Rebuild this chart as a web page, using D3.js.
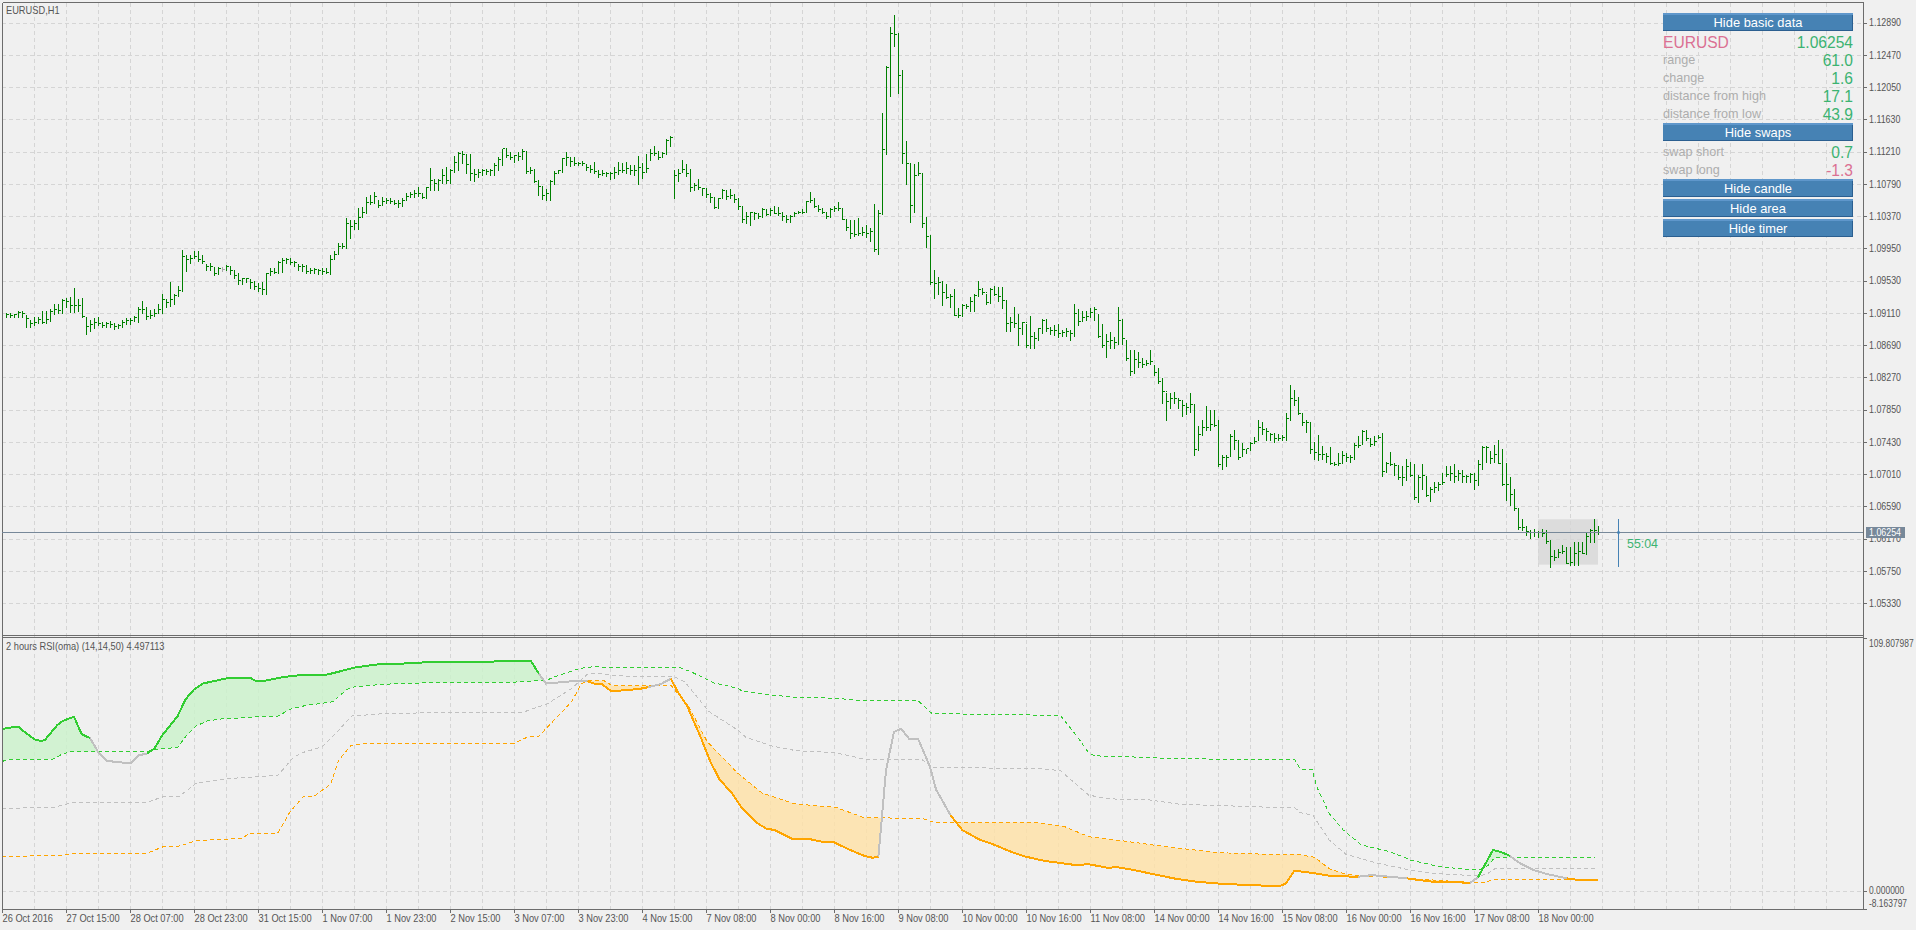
<!DOCTYPE html>
<html>
<head>
<meta charset="utf-8">
<script src="https://cdn.jsdelivr.net/npm/d3@7"></script>
<style>
  html, body { margin: 0; padding: 0; background: #f0f0f0; overflow: hidden; }
  text { font-family: "Liberation Sans", Arial, sans-serif; }
</style>
</head>
<body>
<svg id="chart" width="1916" height="930"></svg>
<script>
// prices are kept as price x 10000
const highs = [
  10911,10911,10910,10913,10914,10908,10902,10905,10905,10913,
  10914,10916,10922,10922,10929,10930,10931,10943,10929,10930,
  10906,10902,10904,10906,10899,10899,10901,10898,10897,10902,
  10904,10904,10907,10919,10926,10918,10915,10916,10922,10936,
  10929,10951,10935,10946,10993,10986,10986,10991,10991,10986,
  10974,10976,10970,10971,10971,10973,10971,10967,10963,10957,
  10957,10955,10953,10950,10951,10963,10969,10969,10979,10982,
  10983,10983,10979,10974,10974,10973,10969,10969,10968,10969,
  10970,10986,10992,11002,11002,11034,11032,11032,11047,11049,
  11062,11065,11068,11058,11062,11061,11061,11058,11058,11060,
  11067,11069,11071,11075,11067,11075,11100,11086,11086,11099,
  11101,11099,11115,11120,11122,11118,11118,11099,11098,11099,
  11099,11099,11106,11114,11125,11125,11121,11117,11121,11125,
  11122,11101,11098,11084,11075,11073,11084,11096,11097,11113,
  11120,11114,11114,11108,11109,11104,11104,11107,11097,11097,
  11095,11095,11101,11107,11106,11108,11104,11104,11115,11106,
  11118,11125,11128,11122,11121,11137,11142,11097,11099,11110,
  11105,11098,11080,11085,11073,11073,11067,11061,11060,11073,
  11071,11072,11066,11060,11050,11043,11043,11042,11041,11047,
  11045,11047,11050,11049,11043,11038,11038,11043,11044,11046,
  11057,11068,11061,11052,11048,11043,11048,11050,11055,11048,
  11032,11032,11032,11034,11023,11025,11021,11053,11045,11171,
  11232,11283,11299,11276,11227,11135,11106,11105,11107,11092,
  11036,11012,10967,10958,10952,10949,10936,10942,10917,10923,
  10923,10932,10936,10953,10943,10936,10943,10946,10945,10945,
  10928,10906,10919,10910,10899,10897,10907,10886,10891,10903,
  10903,10893,10895,10897,10889,10891,10889,10923,10916,10913,
  10913,10917,10918,10909,10897,10884,10886,10879,10918,10903,
  10876,10863,10863,10860,10852,10850,10863,10842,10839,10826,
  10807,10807,10808,10800,10798,10793,10806,10792,10763,10771,
  10789,10785,10785,10771,10726,10726,10753,10758,10745,10741,
  10734,10743,10749,10771,10769,10761,10755,10754,10753,10752,
  10780,10817,10811,10802,10780,10771,10769,10743,10752,10737,
  10728,10736,10717,10728,10731,10728,10726,10741,10751,10759,
  10759,10748,10750,10752,10755,10717,10730,10715,10711,10711,
  10721,10717,10714,10700,10714,10698,10684,10691,10691,10702,
  10711,10711,10714,10706,10706,10700,10702,10702,10719,10737,
  10737,10730,10739,10745,10733,10715,10697,10681,10656,10643,
  10633,10628,10629,10627,10629,10628,10615,10602,10604,10609,
  10606,10606,10613,10613,10613,10626,10629,10642,10633
];
const lows = [
  10906,10905,10906,10905,10906,10892,10893,10895,10898,10898,
  10898,10901,10910,10911,10911,10919,10912,10912,10914,10905,
  10884,10888,10891,10895,10892,10893,10893,10890,10891,10893,
  10896,10897,10901,10899,10911,10903,10904,10907,10911,10911,
  10919,10920,10922,10933,10940,10966,10976,10982,10978,10976,
  10967,10967,10960,10961,10966,10967,10961,10957,10949,10948,
  10951,10944,10942,10939,10936,10935,10960,10963,10963,10964,
  10976,10974,10972,10967,10966,10963,10963,10963,10961,10962,
  10963,10962,10981,10989,10995,10996,11009,11020,11020,11036,
  11041,11053,11054,11049,11051,11054,11054,11053,11049,11050,
  11058,11062,11062,11063,11060,11060,11071,11071,11071,11080,
  11080,11080,11094,11097,11106,11093,11084,11083,11088,11091,
  11092,11091,11091,11097,11104,11114,11111,11108,11110,11112,
  11093,11093,11081,11065,11059,11058,11058,11079,11093,11094,
  11104,11102,11103,11103,11104,11097,11095,11093,11088,11091,
  11089,11086,11087,11092,11094,11093,11092,11091,11079,11087,
  11096,11110,11117,11112,11114,11118,11129,11060,11083,11094,
  11089,11070,11071,11072,11065,11062,11056,11048,11048,11060,
  11059,11060,11055,11046,11030,11028,11026,11033,11034,11036,
  11039,11039,11041,11039,11032,11029,11030,11038,11041,11041,
  11043,11055,11049,11044,11041,11035,11036,11044,11045,11033,
  11019,11008,11011,11012,11012,11010,11004,10992,10988,11040,
  11118,11193,11258,11198,11106,11079,11029,11043,11091,11023,
  10997,10949,10930,10936,10921,10930,10919,10908,10906,10907,
  10917,10913,10913,10933,10936,10923,10924,10934,10926,10917,
  10887,10887,10893,10869,10884,10867,10865,10865,10875,10885,
  10888,10884,10882,10880,10881,10881,10876,10881,10895,10902,
  10902,10906,10902,10880,10867,10853,10865,10865,10871,10871,
  10850,10830,10832,10840,10840,10843,10844,10830,10819,10793,
  10772,10787,10793,10787,10777,10779,10782,10726,10732,10752,
  10759,10759,10763,10711,10708,10711,10724,10734,10721,10724,
  10728,10732,10741,10745,10753,10745,10745,10743,10745,10746,
  10746,10771,10791,10779,10765,10756,10728,10720,10719,10721,
  10717,10714,10713,10713,10716,10718,10717,10721,10736,10740,
  10745,10737,10739,10748,10698,10704,10713,10700,10694,10687,
  10693,10698,10669,10665,10682,10672,10666,10678,10680,10688,
  10698,10693,10691,10693,10691,10691,10691,10682,10687,10708,
  10717,10715,10717,10715,10687,10667,10661,10654,10629,10628,
  10622,10618,10620,10619,10620,10611,10580,10589,10593,10598,
  10585,10583,10583,10583,10598,10597,10613,10612,10623
];
const opens = [
  10910,10909,10908,10909,10911,10907,10897,10897,10900,10903,
  10899,10903,10912,10915,10914,10927,10926,10921,10920,10919,
  10905,10892,10896,10899,10897,10895,10897,10896,10893,10895,
  10899,10901,10901,10901,10915,10908,10905,10908,10911,10915,
  10929,10925,10928,10933,10940,10985,10980,10982,10984,10980,
  10973,10971,10970,10962,10968,10969,10971,10966,10960,10953,
  10956,10955,10951,10945,10943,10938,10962,10965,10964,10976,
  10979,10981,10977,10973,10971,10972,10965,10966,10968,10966,
  10965,10964,10980,10987,10998,10997,11027,11024,11027,11036,
  11042,11055,11055,11056,11052,11056,11058,11056,11055,11053,
  11058,11064,11065,11067,11066,11061,11074,11083,11079,11083,
  11086,11083,11097,11107,11118,11117,11099,11093,11091,11094,
  11096,11095,11096,11103,11111,11125,11116,11114,11116,11115,
  11121,11095,11096,11082,11075,11064,11066,11082,11093,11096,
  11112,11113,11108,11106,11106,11104,11100,11098,11095,11091,
  11093,11093,11091,11094,11097,11097,11099,11098,11097,11095,
  11094,11110,11118,11118,11114,11118,11136,11060,11083,11094,
  11098,11094,11074,11077,11073,11073,11065,11061,11048,11060,
  11070,11062,11064,11059,11050,11032,11037,11042,11040,11037,
  11045,11040,11044,11041,11040,11037,11032,11037,11041,11042,
  11043,11056,11057,11050,11045,11042,11036,11046,11047,11047,
  11033,11022,11015,11013,11014,11016,11015,11017,10993,11040,
  11124,11230,11275,11275,11220,11118,11105,11051,11090,11092,
  11027,11010,10950,10949,10950,10937,10933,10932,10908,10907,
  10920,10919,10926,10933,10942,10937,10925,10941,10935,10932,
  10927,10897,10899,10897,10890,10898,10868,10880,10878,10890,
  10901,10890,10888,10888,10884,10886,10887,10884,10909,10900,
  10905,10906,10912,10909,10880,10869,10874,10875,10872,10901,
  10875,10851,10834,10850,10846,10844,10845,10842,10833,10822,
  10808,10796,10799,10800,10797,10790,10788,10792,10733,10752,
  10762,10762,10766,10764,10713,10722,10724,10750,10745,10724,
  10733,10733,10741,10745,10762,10759,10754,10753,10747,10747,
  10748,10774,10800,10797,10780,10768,10768,10733,10729,10727,
  10727,10724,10715,10714,10716,10725,10723,10722,10738,10739,
  10756,10747,10740,10750,10749,10704,10715,10714,10712,10696,
  10697,10711,10699,10670,10697,10697,10672,10680,10683,10688,
  10698,10701,10702,10698,10702,10698,10698,10700,10692,10714,
  10735,10730,10721,10727,10716,10688,10687,10674,10656,10631,
  10631,10626,10625,10625,10625,10623,10613,10593,10592,10597,
  10600,10585,10586,10597,10600,10598,10620,10628,10628
];
const closes = [
  10909,10908,10909,10911,10910,10903,10897,10898,10902,10899,
  10902,10913,10915,10914,10927,10926,10921,10920,10920,10906,
  10893,10896,10899,10897,10895,10897,10896,10893,10894,10899,
  10901,10901,10905,10915,10915,10906,10908,10910,10915,10929,
  10925,10928,10933,10940,10985,10980,10982,10984,10980,10978,
  10971,10971,10962,10969,10968,10971,10966,10960,10953,10956,
  10956,10951,10945,10943,10941,10962,10965,10964,10976,10979,
  10981,10977,10976,10971,10972,10965,10966,10968,10966,10965,
  10964,10980,10987,10997,10998,11027,11024,11027,11035,11042,
  11055,11055,11063,11051,11056,11057,11056,11054,11053,11058,
  11063,11065,11067,11066,11061,11074,11083,11079,11083,11090,
  11084,11097,11107,11118,11117,11104,11093,11091,11094,11096,
  11095,11096,11103,11111,11125,11116,11114,11116,11115,11121,
  11095,11096,11082,11075,11064,11066,11082,11093,11096,11112,
  11113,11108,11106,11106,11106,11100,11098,11095,11091,11093,
  11093,11092,11094,11097,11097,11099,11097,11097,11101,11094,
  11099,11118,11118,11113,11118,11136,11140,11090,11093,11098,
  11093,11074,11077,11074,11073,11065,11061,11048,11060,11070,
  11062,11064,11059,11050,11032,11037,11042,11040,11037,11045,
  11039,11044,11041,11040,11037,11032,11036,11041,11042,11042,
  11056,11057,11050,11045,11042,11036,11046,11047,11047,11033,
  11022,11015,11013,11014,11016,11015,11017,10993,11040,11124,
  11230,11275,11274,11220,11118,11105,11051,11090,11092,11027,
  11010,10950,10949,10950,10937,10931,10932,10908,10907,10920,
  10919,10926,10933,10942,10937,10925,10941,10935,10932,10927,
  10897,10899,10897,10890,10898,10868,10880,10878,10890,10901,
  10890,10888,10888,10884,10886,10887,10884,10910,10900,10905,
  10906,10912,10915,10880,10869,10874,10875,10872,10901,10877,
  10851,10834,10850,10846,10844,10845,10847,10833,10822,10808,
  10796,10799,10800,10797,10790,10788,10792,10733,10752,10762,
  10762,10766,10764,10713,10722,10722,10750,10745,10723,10733,
  10734,10741,10744,10762,10759,10756,10753,10747,10747,10748,
  10774,10800,10797,10780,10768,10768,10733,10729,10727,10727,
  10724,10715,10714,10715,10725,10723,10722,10738,10738,10756,
  10747,10740,10743,10749,10704,10715,10714,10712,10696,10697,
  10711,10699,10670,10697,10699,10673,10681,10683,10688,10690,
  10701,10702,10698,10702,10698,10698,10700,10692,10714,10735,
  10736,10721,10727,10715,10688,10687,10674,10656,10631,10631,
  10626,10625,10625,10625,10623,10613,10593,10592,10599,10600,
  10585,10586,10597,10600,10598,10620,10628,10627,10625.4
];
const dojiBars = [54];

const priceTicks = [11289,11247,11205,11163,11121,11079,11037,10995,10953,10911,10869,10827,10785,10743,10701,10659,10617,10575,10533];
const lastPrice = 10625.4;
const dayHigh = 10642;
const dayLow = 10583;
const dayStartBar = 383;
const timerBar = 403;

const timeLabels = ["26 Oct 2016","27 Oct 15:00","28 Oct 07:00","28 Oct 23:00","31 Oct 15:00","1 Nov 07:00","1 Nov 23:00","2 Nov 15:00","3 Nov 07:00","3 Nov 23:00","4 Nov 15:00","7 Nov 08:00","8 Nov 00:00","8 Nov 16:00","9 Nov 08:00","10 Nov 00:00","10 Nov 16:00","11 Nov 08:00","14 Nov 00:00","14 Nov 16:00","15 Nov 08:00","16 Nov 00:00","16 Nov 16:00","17 Nov 08:00","18 Nov 00:00"];
const rsiTicks = [109.807987, 0, -8.163797];

// RSI line, [bar, value]
const rsiMain = [[-0.9,70.2],[0.5,70.75],[3.1,71.2],[4.6,69],[7.2,65.7],[8.7,65],[9.7,65.4],[12.8,71.9],[14.3,73.8],[17,75.5],[18.9,68],[21,66.3],[23,60.4],[25.2,56.5],[28.1,55.8],[31.2,55.5],[33.2,58.9],[35.2,59.5],[37.1,61.8],[39.1,67.6],[40.8,71.2],[42.9,75.8],[44.9,83.1],[47,87.3],[49.2,89.9],[51.6,90.8],[55.3,92.2],[61,92.4],[62.3,91.1],[64.8,91.1],[69.4,92.7],[73.5,93.5],[80.1,93.7],[83.2,95],[87.1,96.8],[93.4,98.3],[98,98.4],[105.1,99.1],[117.9,99.3],[131.2,99.7],[133.2,94.2],[135,89.9],[139.3,90.5],[143.2,91.2],[145.4,90.9],[147,89.9],[149,89.6],[151.2,86.7],[154.1,86.9],[158.5,87.6],[160.5,88.3],[163.6,89.6],[166.2,91.9],[168.2,85.6],[170.2,80.5],[171.8,74.1],[173.8,66.1],[176.1,56],[178.4,48.4],[181.5,42.4],[184,35.9],[187.6,29.7],[190.1,27.1],[192.2,26.5],[196.8,22.5],[198.8,22.5],[200.3,22.8],[203.9,21.5],[207,21.2],[210.5,18.3],[214.6,15.3],[216.7,14.5],[218.1,15],[218.7,26.5],[220,52.4],[222,69],[223.8,70.3],[225.9,65.7],[228.1,65.7],[231,53.9],[232.5,44.1],[236.1,33],[239.1,26.5],[243.2,22.5],[247.3,20],[251.4,17],[254.9,15],[259.5,13.2],[267.2,11.4],[270.7,11.7],[275.3,10.2],[277.9,10.4],[282,9.2],[287.1,7.3],[292.2,5.5],[297.3,4.2],[303.4,3.3],[311.6,2.6],[318.5,2.3],[320,3.4],[322.1,8.9],[327.2,7.8],[331.3,6.6],[337.9,6.3],[341.5,7],[350.2,5.6],[356.3,4.2],[366,3.7],[368,6.05],[371.75,17.9],[373.9,16.9],[376,15.3],[378.5,12.1],[381.9,9.2],[385.2,7.5],[390.2,5.6],[391.9,5.3],[392.8,4.9],[398,4.9]];
const greenRuns = [[-0.9,21],[35.2,133.2],[368,376]];
const orangeRuns = [[145.4,160.5],[166.2,218.1],[236.1,337.9],[350.2,366],[390.2,398]];

const rsiUpper = [[-0.9,56.2],[0.5,57.1],[11.8,57.2],[14.3,59.6],[16.4,60.4],[23,60.5],[35.2,60.5],[37.8,61.4],[42.9,62.3],[44.9,66.9],[47.5,71.5],[50.5,73.8],[54.1,74.6],[59.7,75.1],[63.8,75.6],[67.9,75.8],[71.5,79.1],[75,80.4],[81.7,82],[85.2,87.3],[87.3,88.5],[94.4,89.6],[104.6,90.2],[127.1,90.5],[135.2,91.4],[138.3,93.5],[143.4,96.4],[146.5,97.1],[158.5,96.7],[168.7,96.7],[171.8,94.5],[176.9,90.2],[183,87.8],[184,86.6],[191.2,84.9],[199.3,83.7],[207.5,83.6],[212.6,82.6],[227.9,82.6],[231.5,76.9],[263.6,76.1],[267.2,68.3],[270.7,59.9],[272.3,58.6],[286,57.9],[291.2,57.3],[318.5,57.1],[322.1,57.1],[323.6,52.9],[326.5,52.7],[327.7,45.2],[330.8,33.7],[334.3,26.5],[338.9,20],[346.1,17.1],[351.2,13.5],[358.5,10.6],[365.5,9.5],[368.5,9.5],[370.4,11],[371.8,13.8],[372.7,14.7],[397.2,14.7]];
const rsiMid = [[-0.9,35.9],[11.8,36.3],[16.4,38.3],[35.2,38.5],[39.3,40.9],[43.4,41.2],[47.5,46.7],[55.6,48.8],[67.9,50.1],[72,58.2],[74.5,60.2],[79.1,62.5],[83.2,69.7],[86.3,75.8],[94.9,76.9],[110.7,77.4],[129.1,77.4],[135.2,81],[141.4,87.7],[145.4,94],[148.5,94.2],[151.6,93.5],[158.5,92.8],[167.2,92.8],[169.7,90.6],[175.8,77.7],[183,69.7],[185,66.6],[191.2,63],[197.3,60.9],[207.5,59.9],[214.6,57.2],[228.9,57.1],[232,53.5],[257.5,53.2],[263.6,52.2],[270.7,41.6],[275.8,40],[286,39.5],[293.2,37.7],[318.5,36.2],[322.1,36.3],[323.6,34],[326.7,33],[330.8,22.2],[335,16],[342,12.5],[350.2,9.5],[356.3,7.8],[365.5,6.9],[368.5,6.9],[370.2,7.3],[371.8,9.5],[372.7,9.9],[397.2,9.9]];
const rsiLower = [[-0.9,15],[14.8,15.7],[17.4,16.4],[35.2,16.4],[39.3,19.3],[43.4,19.6],[47.5,21.9],[59.2,22.9],[60.7,25.1],[67.9,25.1],[71,34.4],[74.5,41.2],[77.1,41.2],[81.2,46.4],[83.2,56.8],[86.3,63.2],[89.3,63.8],[127.1,64],[130.6,66.9],[133.2,67.1],[141.4,82],[143.9,89.9],[145.4,91.1],[149.5,91.1],[151.6,88.9],[158.5,88.9],[166.2,89.2],[170.7,79.8],[175.3,64.7],[183,51],[189.1,42.4],[197.3,37.8],[207.5,36.3],[214.6,31.8],[228.9,31.6],[232,29.8],[257.5,29.8],[264.6,28],[270.7,23.6],[278.9,21.9],[291.2,19],[303.4,16.7],[318.5,15.8],[322.6,16],[327.2,14.7],[330.8,9.8],[334.8,7.5],[338.9,6.6],[350.2,5.6],[365.5,3.9],[370.2,3.9],[370.9,4.6],[372.3,5.2],[397.2,5.2]];

// info panel texts
const buttonLabels = ["Hide basic data","Hide swaps","Hide candle","Hide area","Hide timer"];
const rowLabels = ["range","change","distance from high","distance from low","swap short","swap long"];
const rowValues = ["61.0","1.6","17.1","43.9","0.7","-1.3"];

const colors = {
  bg: "#f0f0f0", grid: "#d5d5d5", frame: "#6c6c6c", text: "#555555",
  bar: "#008000", doji: "#a9a9a9", lime: "#32cd32", orange: "#ffa500", silver: "#c0c0c0",
  slate: "#778899", steel: "#4682b4", seagreen: "#3cb371", pink: "#db7093", faint: "#adadad"
};
const labelFont = 10.3;

// squeeze a text to a narrower width, the terminal font is narrower than the ones we have
const condense = (sel, f) => sel.each(function () {
  d3.select(this).attr("textLength", this.getComputedTextLength() * f).attr("lengthAdjust", "spacingAndGlyphs");
});

const svg = d3.select("#chart");
svg.append("rect").attr("width", 1916).attr("height", 930).attr("fill", colors.bg);

// scales
const left = 2, right = 1863, paneTop = 2, paneBottom = 635, rsiTop = 637, rsiBottom = 909;
const x = d3.scaleLinear().domain([-1, 398]).range([2, 1598]);
const y = d3.scaleLinear().domain([11289, 10533]).range([22.7, 603]);
const yRsi = d3.scaleLinear().domain([109.807987, 0]).range([637.5, 891.3]);

// selected-day area sits under the grid
svg.append("rect")
  .attr("x", x(dayStartBar)).attr("width", x(398) - x(dayStartBar))
  .attr("y", y(dayHigh)).attr("height", y(dayLow) - y(dayHigh))
  .attr("fill", "#dcdcdc");

// grid
const gridBars = d3.range(7, 460, 8);
const grid = svg.append("g").attr("stroke", colors.grid).attr("stroke-dasharray", "4 3").attr("shape-rendering", "crispEdges");
grid.selectAll(".v").data(gridBars).join("line").attr("class", "v")
  .attr("x1", d => x(d) + 0.5).attr("x2", d => x(d) + 0.5).attr("y1", paneTop + 1).attr("y2", rsiBottom);
grid.selectAll(".h").data(priceTicks).join("line").attr("class", "h")
  .attr("x1", left).attr("x2", right).attr("y1", d => Math.round(y(d)) + 0.5).attr("y2", d => Math.round(y(d)) + 0.5);
grid.append("line").attr("x1", left).attr("x2", right).attr("y1", Math.round(yRsi(0)) + 0.5).attr("y2", Math.round(yRsi(0)) + 0.5);

// OHLC bars
const bars = svg.append("g").attr("shape-rendering", "crispEdges");
highs.forEach((h, i) => {
  const cx = Math.round(x(i)) + 0.5;
  const g = bars.append("g").attr("stroke", dojiBars.includes(i) ? colors.doji : colors.bar);
  g.append("line").attr("x1", cx).attr("x2", cx).attr("y1", y(h)).attr("y2", y(lows[i]) + 1);
  g.append("line").attr("x1", cx - 1).attr("x2", cx).attr("y1", y(opens[i])).attr("y2", y(opens[i]));
  g.append("line").attr("x1", cx).attr("x2", cx + 2).attr("y1", y(closes[i])).attr("y2", y(closes[i]));
});

// RSI fills: clip the area under/over the RSI line with the area outside the band
const defs = svg.append("defs");
defs.append("clipPath").attr("id", "aboveUpper").append("path")
  .attr("d", d3.area().x(d => x(d[0])).y0(rsiTop).y1(d => yRsi(d[1]))(rsiUpper));
defs.append("clipPath").attr("id", "belowLower").append("path")
  .attr("d", d3.area().x(d => x(d[0])).y0(rsiBottom).y1(d => yRsi(d[1]))(rsiLower));

svg.append("path").attr("clip-path", "url(#aboveUpper)")
  .attr("d", d3.area().x(d => x(d[0])).y0(rsiBottom).y1(d => yRsi(d[1]))(rsiMain))
  .attr("fill", "rgb(202,243,202)").attr("fill-opacity", 0.8);
svg.append("path").attr("clip-path", "url(#belowLower)")
  .attr("d", d3.area().x(d => x(d[0])).y0(rsiTop).y1(d => yRsi(d[1]))(rsiMain))
  .attr("fill", "rgb(255,225,165)").attr("fill-opacity", 0.8);

// RSI bands
const rsiLine = d3.line().x(d => x(d[0])).y(d => yRsi(d[1]));
[[rsiUpper, colors.lime], [rsiMid, colors.silver], [rsiLower, colors.orange]].forEach(([s, c]) => {
  svg.append("path").attr("d", rsiLine(s)).attr("fill", "none").attr("stroke", c)
    .attr("stroke-dasharray", "4 3").attr("shape-rendering", "crispEdges");
});

// RSI main line, silver with coloured runs on top
const drawMain = (pts, c) => svg.append("path").attr("d", rsiLine(pts)).attr("fill", "none")
  .attr("stroke", c).attr("stroke-width", 2).attr("shape-rendering", "crispEdges");
drawMain(rsiMain, colors.silver);
greenRuns.forEach(([a, b]) => drawMain(rsiMain.filter(d => d[0] >= a && d[0] <= b), colors.lime));
orangeRuns.forEach(([a, b]) => drawMain(rsiMain.filter(d => d[0] >= a && d[0] <= b), colors.orange));

// frames
const frame = svg.append("g").attr("stroke", colors.frame).attr("shape-rendering", "crispEdges");
[[left, paneTop, right, paneTop], [left, paneTop, left, rsiBottom], [right, paneTop, right, rsiBottom],
 [left, paneBottom, right, paneBottom], [left, rsiTop, right, rsiTop], [left, rsiBottom, right, rsiBottom]]
  .forEach(l => frame.append("line").attr("x1", l[0] + 0.5).attr("y1", l[1] + 0.5).attr("x2", l[2] + 0.5).attr("y2", l[3] + 0.5));

// axes
const styleAxis = g => {
  g.select(".domain").remove();
  g.selectAll("line").attr("stroke", colors.frame).attr("shape-rendering", "crispEdges");
  g.selectAll("text").attr("fill", colors.text).attr("font-family", '"Liberation Sans", Arial, sans-serif').attr("font-size", labelFont);
};

svg.append("g").attr("transform", `translate(${right + 1},0)`)
  .call(d3.axisRight(y).tickValues(priceTicks).tickSize(3).tickPadding(2).tickFormat(d => (d / 10000).toFixed(5)))
  .call(styleAxis)
  .selectAll("text").call(condense, 0.86);

const rsiAxis = svg.append("g").attr("transform", `translate(${right + 1},0)`)
  .call(d3.axisRight(yRsi).tickValues(rsiTicks).tickSize(3).tickPadding(2).tickFormat(d => d.toFixed(6)))
  .call(styleAxis);
rsiAxis.selectAll("text").attr("dy", (d, i) => [8.5, 2.3, -2.9][i] + "px").call(condense, 0.82);
rsiAxis.selectAll("g.tick").filter(d => d < 0).attr("transform", "translate(0,909.5)");

const timeBars = timeLabels.map((d, i) => i * 16 - 1);
const xAxis = svg.append("g").attr("transform", `translate(0,${rsiBottom + 1})`)
  .call(d3.axisBottom(x).tickValues(timeBars).tickSize(4).tickPadding(1).tickFormat((d, i) => timeLabels[i]))
  .call(styleAxis);
xAxis.selectAll("text").attr("text-anchor", "start").attr("dx", "0px").call(condense, 0.9);
xAxis.selectAll("g.tick line").attr("transform", "translate(0,-1)");

// titles
svg.append("text").attr("x", 6).attr("y", 13.5).attr("font-size", labelFont).attr("fill", colors.text).text("EURUSD,H1").call(condense, 0.9);
svg.append("text").attr("x", 6).attr("y", 650).attr("font-size", labelFont).attr("fill", colors.text).text("2 hours RSI(oma) (14,14,50) 4.497113").call(condense, 0.9);

// last price line and badge
const lastY = Math.round(y(lastPrice)) + 0.5;
svg.append("line").attr("x1", left).attr("x2", right).attr("y1", lastY).attr("y2", lastY)
  .attr("stroke", colors.slate).attr("shape-rendering", "crispEdges");
svg.append("rect").attr("x", 1866).attr("y", lastY - 5.5).attr("width", 39).attr("height", 11).attr("fill", colors.slate);
svg.append("text").attr("x", 1869).attr("y", lastY + 3.5).attr("font-size", labelFont).attr("fill", "#fff").text((lastPrice / 10000).toFixed(5)).call(condense, 0.86);

// candle timer
const timerX = x(timerBar);
svg.append("line").attr("x1", timerX + 0.5).attr("x2", timerX + 0.5).attr("y1", y(dayHigh)).attr("y2", y(dayLow) + 2)
  .attr("stroke", colors.steel).attr("shape-rendering", "crispEdges");
svg.append("rect").attr("x", timerX - 1).attr("y", lastY - 1).attr("width", 3).attr("height", 2).attr("fill", colors.steel);
svg.append("text").attr("x", timerX + 9).attr("y", 547.5).attr("font-size", 12.4).attr("fill", colors.seagreen).text("55:04");

// info panel
const panelL = 1663, panelR = 1853;
const buttonTops = [13, 123, 179, 199, 219];
buttonLabels.forEach((label, i) => {
  const g = svg.append("g").attr("transform", `translate(${panelL},${buttonTops[i]})`).attr("shape-rendering", "crispEdges");
  g.append("rect").attr("width", panelR - panelL).attr("height", 18).attr("fill", colors.steel);
  g.append("rect").attr("width", panelR - panelL).attr("height", 2).attr("fill", "#5f97cb");
  g.append("rect").attr("y", 16.5).attr("width", panelR - panelL).attr("height", 1.5).attr("fill", "#2b5f90");
  g.append("rect").attr("x", panelR - panelL - 1.5).attr("y", 2).attr("width", 1.5).attr("height", 16).attr("fill", "#2b5f90");
  g.append("text").attr("x", (panelR - panelL) / 2).attr("y", 13.5).attr("text-anchor", "middle")
    .attr("font-size", 12.9).attr("fill", "#fff").attr("shape-rendering", "auto").text(label);
});

svg.append("text").attr("x", panelL).attr("y", 48).attr("font-size", 15.6).attr("fill", colors.pink).text("EURUSD");
svg.append("text").attr("x", panelR).attr("y", 48).attr("text-anchor", "end").attr("font-size", 15.6).attr("fill", colors.seagreen).text((lastPrice / 10000).toFixed(5));

const rowCenters = [60, 78, 96, 114, 152, 170];
rowLabels.forEach((label, i) => {
  svg.append("text").attr("x", panelL).attr("y", rowCenters[i] + 4).attr("font-size", 12.6).attr("fill", colors.faint).text(label);
  svg.append("text").attr("x", panelR).attr("y", rowCenters[i] + 5.5).attr("text-anchor", "end").attr("font-size", 15.6)
    .attr("fill", rowValues[i].startsWith("-") ? colors.pink : colors.seagreen).text(rowValues[i]);
});
</script>
</body>
</html>
